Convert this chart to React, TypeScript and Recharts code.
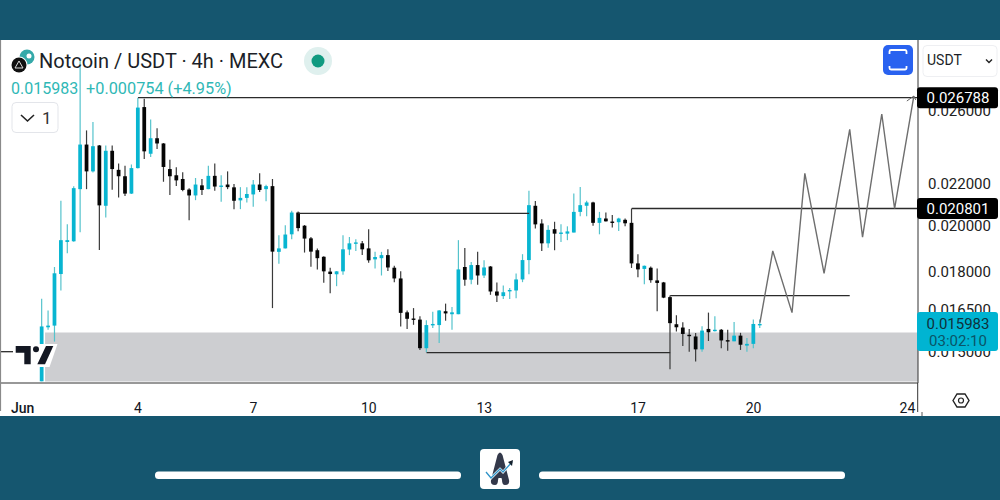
import React from 'react';
import { ComposedChart, Bar, Line, XAxis, YAxis, ReferenceArea, ReferenceLine } from 'recharts';

const opens = [0.01402,0.01586,0.01592,0.01791,0.01927,0.0193,0.02174,0.02407,0.02264,0.02402,0.02093,0.02373,0.02272,0.02239,0.02152,0.02281,0.02622,0.02357,0.02442,0.02413,0.02276,0.02244,0.02225,0.02172,0.02143,0.02193,0.02174,0.02241,0.02187,0.02197,0.02183,0.02119,0.02131,0.02148,0.02197,0.02174,0.02189,0.01884,0.01899,0.01961,0.02061,0.02,0.01943,0.01891,0.01863,0.01801,0.0179,0.01802,0.01894,0.0192,0.01921,0.01899,0.01852,0.01857,0.0187,0.01817,0.01773,0.01641,0.01618,0.01614,0.01512,0.01594,0.01594,0.01645,0.01634,0.01634,0.0182,0.01768,0.01828,0.01785,0.01822,0.01721,0.01703,0.01723,0.01725,0.01769,0.01849,0.02093,0.0201,0.01921,0.01984,0.01964,0.01964,0.01969,0.02064,0.02093,0.02109,0.02013,0.02033,0.02019,0.02016,0.02027,0.02013,0.01835,0.01812,0.01817,0.01765,0.01757,0.01699,0.01597,0.01585,0.01559,0.01553,0.01508,0.0158,0.01573,0.01577,0.0154,0.01536,0.01556,0.01521,0.01527,0.01597];
const highs = [0.01693,0.01648,0.0182,0.02117,0.02007,0.02189,0.02917,0.02486,0.02534,0.02405,0.02402,0.02402,0.02305,0.02293,0.023,0.02679,0.02673,0.02548,0.02499,0.02415,0.02325,0.02285,0.02259,0.02179,0.0223,0.02225,0.02293,0.02305,0.02244,0.02264,0.022,0.02184,0.02183,0.0222,0.02254,0.02196,0.02225,0.01957,0.02002,0.02069,0.02066,0.02003,0.01949,0.01899,0.01865,0.01817,0.01803,0.01957,0.01949,0.01939,0.01931,0.01984,0.01884,0.01884,0.01895,0.01825,0.01802,0.01648,0.01657,0.01626,0.01612,0.01643,0.0165,0.01674,0.01661,0.01935,0.01901,0.01841,0.01884,0.01848,0.01824,0.01757,0.01745,0.01735,0.01793,0.01874,0.02166,0.02116,0.0203,0.02002,0.02018,0.02007,0.01997,0.02152,0.02185,0.02117,0.02112,0.02064,0.02061,0.02049,0.02036,0.02033,0.0208,0.01874,0.01826,0.01822,0.01814,0.01759,0.01705,0.0163,0.01604,0.0158,0.01565,0.0159,0.0164,0.01626,0.0158,0.01577,0.01605,0.01566,0.01548,0.01614,0.01614];
const lows = [0.01402,0.01577,0.01535,0.01725,0.01878,0.01928,0.0197,0.02174,0.02258,0.01892,0.02038,0.02171,0.02133,0.0214,0.0215,0.02279,0.02329,0.0234,0.02383,0.02211,0.02145,0.0219,0.02163,0.02025,0.0212,0.02145,0.02174,0.02166,0.02112,0.02174,0.02077,0.02077,0.02109,0.02088,0.0216,0.02115,0.01657,0.01834,0.01899,0.01939,0.01975,0.01881,0.01821,0.0181,0.01756,0.01714,0.01742,0.01788,0.0187,0.01888,0.0187,0.01838,0.01814,0.01785,0.01803,0.01758,0.01589,0.0158,0.01595,0.01506,0.01498,0.01583,0.0153,0.0161,0.01577,0.01634,0.01744,0.0175,0.01748,0.01775,0.01708,0.0168,0.01692,0.01692,0.01695,0.01758,0.0179,0.01987,0.01888,0.01902,0.01891,0.01927,0.01935,0.01969,0.02044,0.02044,0.02,0.01961,0.02019,0.01992,0.01976,0.01997,0.01816,0.01778,0.0175,0.01756,0.01645,0.01695,0.01441,0.01571,0.0152,0.015,0.01467,0.015,0.01537,0.01571,0.01512,0.01503,0.01536,0.01506,0.015,0.01512,0.01583];
const closes = [0.01589,0.01592,0.01794,0.01935,0.01935,0.02179,0.02407,0.02264,0.02398,0.02095,0.02373,0.02276,0.02239,0.02152,0.02281,0.02619,0.0237,0.02442,0.02413,0.02287,0.02239,0.02218,0.0217,0.02143,0.02197,0.0217,0.02241,0.02187,0.02192,0.02184,0.02117,0.02131,0.0215,0.02197,0.0217,0.02189,0.01885,0.01899,0.0196,0.02061,0.01989,0.01942,0.01885,0.01857,0.01802,0.01791,0.01802,0.01895,0.01921,0.01925,0.01895,0.01848,0.01862,0.0187,0.01818,0.01773,0.01639,0.01617,0.01613,0.01512,0.01594,0.01598,0.01648,0.01637,0.01641,0.0181,0.01768,0.01828,0.01785,0.01818,0.01721,0.01705,0.01718,0.01727,0.01769,0.01849,0.02096,0.02006,0.01921,0.01981,0.01964,0.01969,0.01974,0.02064,0.02096,0.02109,0.02013,0.02036,0.0202,0.02014,0.02033,0.02011,0.01835,0.0181,0.01825,0.01766,0.01755,0.01697,0.01601,0.01586,0.01562,0.01555,0.01508,0.01574,0.01568,0.01577,0.01539,0.01536,0.01556,0.01524,0.01527,0.01598,0.01598];

// 4h slots counted from Jun 1 00:00, first candle is slot 3
const firstSlot = 3;
const tickSlots = [0, 18, 36, 54, 72, 96, 114, 138];
const tickLabels = ['Jun', '4', '7', '10', '13', '17', '20', '24'];
const priceTicks = [0.015, 0.0165, 0.018, 0.02, 0.022, 0.026];

const projection = [
  { slot: 115, price: 0.01603 },
  { slot: 117, price: 0.01888 },
  { slot: 120, price: 0.0164 },
  { slot: 122, price: 0.02254 },
  { slot: 125, price: 0.01794 },
  { slot: 129, price: 0.02492 },
  { slot: 131, price: 0.01948 },
  { slot: 134, price: 0.02581 },
  { slot: 136, price: 0.0208 },
  { slot: 139, price: 0.02689 },
];

const lastPrice = 0.015983;
const topLevel = 0.026788;
const midLevel = 0.020801;
const levels = [
  { from: 18, to: 139.65, price: topLevel },
  { from: 95, to: 139.65, price: midLevel },
  { from: 43, to: 79, price: 0.02057 },
  { from: 101, to: 129, price: 0.01705 },
  { from: 63, to: 101, price: 0.01497 },
  { from: -3.53, to: -1.5, price: 0.015 },
];
const zone = { x1: 3.5, x2: 139.65, top: 0.01567, bottom: 0.01401 };

const candles = opens.map((open, i) => ({
  slot: firstSlot + i,
  open,
  high: highs[i],
  low: lows[i],
  close: closes[i],
  range: [lows[i], highs[i]],
}));

const TEAL = '#08b5d1';
const INK = '#131722';
const domainX = [-3.53, 139.65];
const domainY = [0.013965, 0.03056];

const Candle = (props: any) => {
  const { x, y, width, height, payload } = props;
  const { open, high, low, close } = payload;
  const up = close >= open;
  const cx = x + width / 2;
  // same log mapping as the axis, inside the high-low span
  const at = (v: number) => y + (height * Math.log(high / v)) / Math.log(high / low);
  const top = at(Math.max(open, close));
  const bottom = at(Math.min(open, close));
  return (
    <g>
      <line x1={cx} x2={cx} y1={y} y2={y + height} stroke={up ? '#55c3cc' : '#3a3a3a'} strokeWidth={1.2} />
      <rect x={x} y={top} width={width} height={Math.max(bottom - top, 1.4)} fill={up ? TEAL : '#050505'} />
    </g>
  );
};

const ArrowDot = (props: any) => {
  const { cx, cy, index } = props;
  if (index !== projection.length - 1) return <g key={index} />;
  return <path key={index} d={`M${cx - 7} ${cy + 5} L${cx} ${cy} L${cx + 2} ${cy + 4}`} fill="none" stroke="#666" strokeWidth={1} />;
};

const PriceTag = ({ viewBox, text }: any) => (
  <g>
    <rect x={917} y={viewBox.y - 10.5} width={81} height={21} rx={3} fill="#000" />
    <text x={958} y={viewBox.y + 5.5} textAnchor="middle" fontSize={15} fill="#fff" fontFamily="Roboto">{text}</text>
  </g>
);

const LastTag = ({ viewBox }: any) => (
  <g>
    <rect x={917} y={viewBox.y - 12} width={81} height={39} rx={3} fill="#00b4d2" />
    <text x={958} y={viewBox.y + 5} textAnchor="middle" fontSize={15} fill="#10303a" fontFamily="Roboto">{lastPrice.toFixed(6)}</text>
    <text x={958} y={viewBox.y + 22} textAnchor="middle" fontSize={15} fill="#0a5468" fontFamily="Roboto">03:02:10</text>
  </g>
);

const DateTick = ({ x, y, payload }: any) => {
  const idx = tickSlots.indexOf(payload.value);
  return (
    <text x={x} y={y + 22} textAnchor="middle" fontSize={14} fontWeight={idx === 0 ? 500 : 400} fill={INK} fontFamily="Roboto">
      {tickLabels[idx]}
    </text>
  );
};

const Overlay = () => (
  <svg width={1000} height={500} style={{ position: 'absolute', left: 0, top: 0, pointerEvents: 'none' }}>
    {/* frame bits */}
    <line x1={0.5} x2={0.5} y1={40} y2={411} stroke="#8a8a8a" strokeWidth={1.2} />
    <line x1={917.7} x2={917.7} y1={383} y2={412} stroke="#333" strokeWidth={1} />
    <line x1={922} x2={922} y1={412} y2={416} stroke="#555" strokeWidth={1} />

    {/* coin icon */}
    <circle cx={27} cy={57} r={7.5} fill="#35a9a9" />
    <circle cx={29} cy={56} r={2.5} fill="#fff" />
    <circle cx={19} cy={65} r={8.5} fill="#fff" />
    <circle cx={19} cy={65} r={7.5} fill="#111" />
    <path d="M19 61 L23 68 L15 68 Z" fill="none" stroke="#ddd" strokeWidth={1} />
    <text x={39} y={68} fontSize={20} fill="#1c1f28" fontFamily="Roboto">Notcoin / USDT · 4h · MEXC</text>
    <circle cx={318} cy={61} r={14} fill="#dff0ee" />
    <circle cx={318} cy={61} r={6.5} fill="#109a80" />
    <text x={11} y={94} fontSize={16} fill="#2fb8b6" fontFamily="Roboto">0.015983</text>
    <text x={86} y={94} fontSize={16.3} fill="#2fb8b6" fontFamily="Roboto">+0.000754 (+4.95%)</text>

    {/* collapse button */}
    <rect x={12} y={102.5} width={46} height={30} rx={4} fill="#fff" stroke="#e3e5ea" />
    <path d="M21 115 L27.5 121 L34 115" fill="none" stroke="#222" strokeWidth={1.6} />
    <text x={42} y={124} fontSize={17} fill="#333" fontFamily="Roboto">1</text>

    {/* fullscreen button */}
    <rect x={883} y={45} width={30} height={30} rx={5} fill="#2962f0" />
    <path d="M889.5 54 V51.5 a1.5 1.5 0 0 1 1.5 -1.5 H905 a1.5 1.5 0 0 1 1.5 1.5 V54 M889.5 66 V68 a1.5 1.5 0 0 0 1.5 1.5 H905 a1.5 1.5 0 0 0 1.5 -1.5 V66" fill="none" stroke="#fff" strokeWidth={1.8} />

    {/* currency select */}
    <rect x={923} y={45.5} width={74} height={31} rx={4} fill="#fff" stroke="#eeeff2" />
    <text x={927} y={65} fontSize={14} fill="#1c1f28" fontFamily="Roboto">USDT</text>
    <path d="M986 59.5 L989 62.5 L992 59.5" fill="none" stroke="#222" strokeWidth={1.4} />

    {/* settings hexagon */}
    <path d="M953 400.5 L957 394 H965 L969 400.5 L965 407 H957 Z" fill="none" stroke="#222" strokeWidth={1.4} />
    <circle cx={961} cy={400.5} r={2.5} fill="none" stroke="#222" strokeWidth={1.2} />

    {/* tradingview mark */}
    <path d="M14 344 H57.5 L49.5 367 H14 Z" fill="#fff" />
    <path d="M15.7 346 H30.7 V364.3 H24.3 V352.7 H15.7 Z" fill={INK} />
    <circle cx={36} cy={349.3} r={3} fill={INK} />
    <path d="M46 346 H53.3 L45 364.3 H37.3 Z" fill={INK} />

    {/* footer */}
    <rect x={155} y={471.5} width={306} height={7.5} rx={3.5} fill="#fff" />
    <rect x={539} y={471.5} width={306} height={7.5} rx={3.5} fill="#fff" />
    <rect x={480} y={449} width={40} height={40} rx={4} fill="#fff" />
    <path d="M495 485 Q490 485 491 480 L497.5 455 Q500 450 502.5 455 L509 480 Q510 485 505 485 Q502 485 502 480 L501.5 478 H498.5 L498 480 Q498 485 495 485 Z" fill="#33384a" />
    <path d="M486 472 L491 478 L500 469 L503 472 L512 462" fill="none" stroke="#fff" strokeWidth={2.6} />
    <path d="M486 472 L491 478 L500 469 L503 472 L512 462" fill="none" stroke="#2f93c8" strokeWidth={1.3} />
    <path d="M508 462 L513 460 L512 466 Z" fill="#14202c" />
  </svg>
);

// second chart on the same scales, only so the price tags sit above the axis labels
// (hidden x axis takes no height, so the bottom margin holds its 33px too)
const TagLayer = () => (
  <div style={{ position: 'absolute', left: 0, top: 0 }}>
    <ComposedChart width={1000} height={500} data={candles} margin={{ top: 40, right: 0, bottom: 117, left: 0 }}>
      <XAxis dataKey="slot" type="number" domain={domainX} allowDataOverflow hide />
      <YAxis yAxisId="price" orientation="right" scale="log" type="number" domain={domainY} allowDataOverflow width={82} tick={false} axisLine={false} tickLine={false} />
      <ReferenceLine yAxisId="price" y={topLevel} stroke="none" label={<PriceTag text={topLevel.toFixed(6)} />} />
      <ReferenceLine yAxisId="price" y={midLevel} stroke="none" label={<PriceTag text={midLevel.toFixed(6)} />} />
      <ReferenceLine yAxisId="price" y={lastPrice} stroke="none" label={<LastTag />} />
    </ComposedChart>
  </div>
);

export default function App() {
  return (
    <div style={{ position: 'absolute', left: 0, top: 0, width: 1000, height: 500, background: '#15566f', overflow: 'hidden', fontFamily: 'Roboto' }}>
      <div style={{ position: 'absolute', left: 0, top: 40, width: 1000, height: 376, background: '#fff' }} />
      <div style={{ position: 'absolute', left: 0, top: 0 }}>
        <ComposedChart width={1000} height={500} data={candles} margin={{ top: 40, right: 0, bottom: 84, left: 0 }}>
          <XAxis
            dataKey="slot"
            type="number"
            domain={domainX}
            allowDataOverflow
            ticks={tickSlots}
            interval={0}
            height={33}
            tickLine={false}
            axisLine={{ stroke: '#333', strokeWidth: 1.2 }}
            tick={<DateTick />}
          />
          <YAxis
            yAxisId="price"
            orientation="right"
            scale="log"
            type="number"
            domain={domainY}
            allowDataOverflow
            ticks={priceTicks}
            interval={0}
            width={82}
            tickSize={0}
            tickMargin={10}
            tickFormatter={(v: number) => v.toFixed(6)}
            tick={{ fontSize: 15, fill: '#222', fontFamily: 'Roboto' }}
            axisLine={{ stroke: '#333', strokeWidth: 1 }}
          />
          <ReferenceArea yAxisId="price" x1={zone.x1} x2={zone.x2} y1={zone.bottom} y2={zone.top} fill="#cdced1" fillOpacity={1} stroke="none" />
          <Bar yAxisId="price" dataKey="range" barSize={5.5} shape={<Candle />} isAnimationActive={false} />
          {levels.map((lv) => (
            <Line
              key={lv.from}
              yAxisId="price"
              data={[{ slot: lv.from, price: lv.price }, { slot: lv.to, price: lv.price }]}
              dataKey="price"
              stroke="#2b2b2b"
              strokeWidth={1.3}
              dot={false}
              isAnimationActive={false}
            />
          ))}
          <Line yAxisId="price" data={projection} dataKey="price" stroke="#6e6e6e" strokeWidth={1.4} dot={<ArrowDot />} isAnimationActive={false} />
        </ComposedChart>
      </div>
      <TagLayer />
      <Overlay />
    </div>
  );
}
